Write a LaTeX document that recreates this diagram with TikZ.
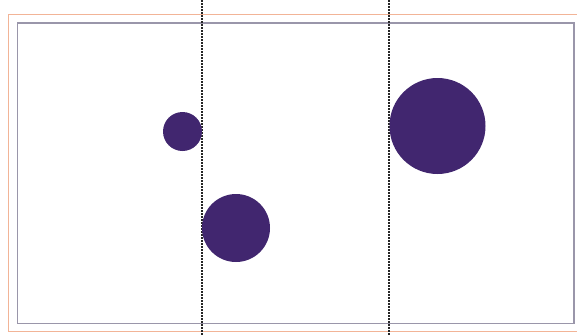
\documentclass[tikz,border=0pt]{standalone}
\begin{document}
\begin{tikzpicture}[x=1pt,y=-1pt,
  blob/.style={circle,fill=blobc,draw=none,inner sep=0pt},
  divider/.style={draw=black!85,line width=1.3pt,dash pattern=on 1.6pt off 1.4pt}]
\definecolor{blobc}{HTML}{41266F}
\definecolor{outerc}{HTML}{F2B497}
\definecolor{innerc}{HTML}{9A96AA}
\useasboundingbox (0,0) rectangle (577,335);
\draw[outerc,line width=1pt] (8.5,14.5) rectangle (580,331.5);
\draw[innerc,line width=1.2pt] (17.5,23) rectangle (574,323.5);
\coordinate (d1t) at (202,0); \coordinate (d1b) at (202,335);
\coordinate (d2t) at (389,0); \coordinate (d2b) at (389,335);
\draw[divider] (d1t) -- (d1b);
\draw[divider] (d2t) -- (d2b);
\node[blob,minimum size=39pt] (c1) at (182.5,131.5) {};
\node[blob,minimum size=68pt] (c2) at (236,228) {};
\node[blob,minimum size=96pt] (c3) at (437.5,126) {};
\end{tikzpicture}
\end{document}
